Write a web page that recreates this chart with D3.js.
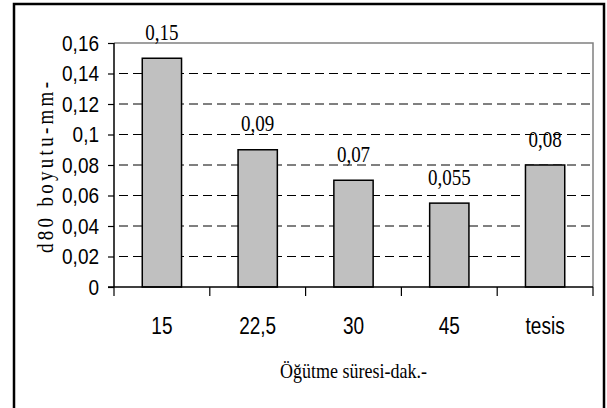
<!DOCTYPE html>
<html><head><meta charset="utf-8">
<script src="https://cdn.jsdelivr.net/npm/d3@7"></script>
<style>
body{margin:0;background:#fff;}
svg{display:block;}
</style></head>
<body>
<script>
const categories = ["15", "22,5", "30", "45", "tesis"];
const values = [0.15, 0.09, 0.07, 0.055, 0.08];
const valueLabels = ["0,15", "0,09", "0,07", "0,055", "0,08"];
const yTicks = [0, 0.02, 0.04, 0.06, 0.08, 0.1, 0.12, 0.14, 0.16];
const yTickLabels = ["0", "0,02", "0,04", "0,06", "0,08", "0,1", "0,12", "0,14", "0,16"];
const xTitle = "Öğütme süresi-dak.-";
const yTitle = "d80 boyutu-mm-";

const SANS = '"Liberation Sans", Arial, sans-serif';
const SERIF = '"Liberation Serif", "Times New Roman", serif';
const SY = 1.2; // vertical stretch of the original's text

const W = 607, H = 408;
const svg = d3.select("body").append("svg").attr("width", W).attr("height", H);

// outer frame
svg.append("rect").attr("x", 14).attr("y", 4).attr("width", 590).attr("height", 410)
  .attr("fill", "#fff").attr("stroke", "#000").attr("stroke-width", 2.5);

const L = 114, R = 593, T = 43, B = 287;
const x = d3.scaleBand().domain(categories).range([L, R]).paddingInner(0.59).paddingOuter(0.295);
const xb = d3.scaleBand().domain(categories).range([L, R]);
const y = d3.scaleLinear().domain([0, 0.16]).range([B, T]);

// plot border (top/right gray)
svg.append("path").attr("d", `M${L},${T}H${R}V${B}`).attr("fill", "none")
  .attr("stroke", "#808080").attr("stroke-width", 1.5);

// gridlines
svg.append("g").selectAll("line").data(yTicks.filter(d => d > 0 && d < 0.16)).join("line")
  .attr("x1", L).attr("x2", R).attr("y1", d => y(d)).attr("y2", d => y(d))
  .attr("stroke", "#000").attr("stroke-width", 1).attr("stroke-dasharray", "9,5").attr("stroke-dashoffset", -5);

// bars
svg.append("g").selectAll("rect").data(values).join("rect")
  .attr("x", (d, i) => x(categories[i])).attr("width", x.bandwidth())
  .attr("y", d => y(d)).attr("height", d => B - y(d))
  .attr("fill", "#c0c0c0").attr("stroke", "#000").attr("stroke-width", 1.5);

// value labels
svg.append("g").selectAll("text").data(values).join("text")
  .style("font-family", SERIF).style("font-size", "19px")
  .attr("transform", (d, i) => `translate(${x(categories[i]) + x.bandwidth() / 2},${y(d) - 18.5}) scale(1,${SY})`)
  .attr("text-anchor", "middle")
  .text((d, i) => valueLabels[i]);

// y axis
const yAxis = d3.axisLeft(y).tickValues(yTicks).tickFormat((d, i) => yTickLabels[i]).tickSize(6).tickPadding(9);
const gy = svg.append("g").attr("transform", `translate(${L},0)`).call(yAxis);
gy.select(".domain").attr("stroke", "#000").attr("stroke-width", 1.5).attr("d", `M0,${T}V${B}`);
gy.selectAll(".tick line").attr("stroke", "#000").attr("stroke-width", 1.2);
gy.selectAll(".tick text").style("font-family", SANS).style("font-size", "19px").attr("fill", "#000")
  .attr("transform", `scale(1,${SY})`);

// x axis
const gx = svg.append("g").attr("transform", `translate(0,${B})`);
gx.append("line").attr("x1", L - 6).attr("x2", R).attr("y1", 0).attr("y2", 0).attr("stroke", "#000").attr("stroke-width", 1.5);
const bounds = categories.map(c => xb(c)).concat([R]);
gx.selectAll("line.t").data(bounds).join("line").attr("class", "t")
  .attr("x1", d => d).attr("x2", d => d).attr("y1", 0).attr("y2", 9)
  .attr("stroke", "#000").attr("stroke-width", 1.2);
gx.selectAll("text").data(categories).join("text")
  .style("font-family", SANS).style("font-size", "19px")
  .attr("transform", d => `translate(${xb(d) + xb.bandwidth() / 2},47) scale(1,1.28)`)
  .attr("text-anchor", "middle").text(d => d);

// axis titles
svg.append("text").style("font-family", SERIF).style("font-size", "18px")
  .attr("transform", `translate(${(L + R) / 2},378) scale(1,1.15)`).attr("text-anchor", "middle").text(xTitle);

// y title: starts at bottom (y=253), spans to y=82
const yt = svg.append("text").style("font-family", SERIF).style("font-size", "19px")
  .attr("transform", `translate(53,253) rotate(-90) scale(1,1.2)`).attr("text-anchor", "start").text(yTitle);
const natural = yt.node().getComputedTextLength();
const target = 253 - 82;
const ls = Math.max(0, (target - natural) / (yTitle.length - 1));
yt.style("letter-spacing", ls + "px");
</script>
</body></html>
